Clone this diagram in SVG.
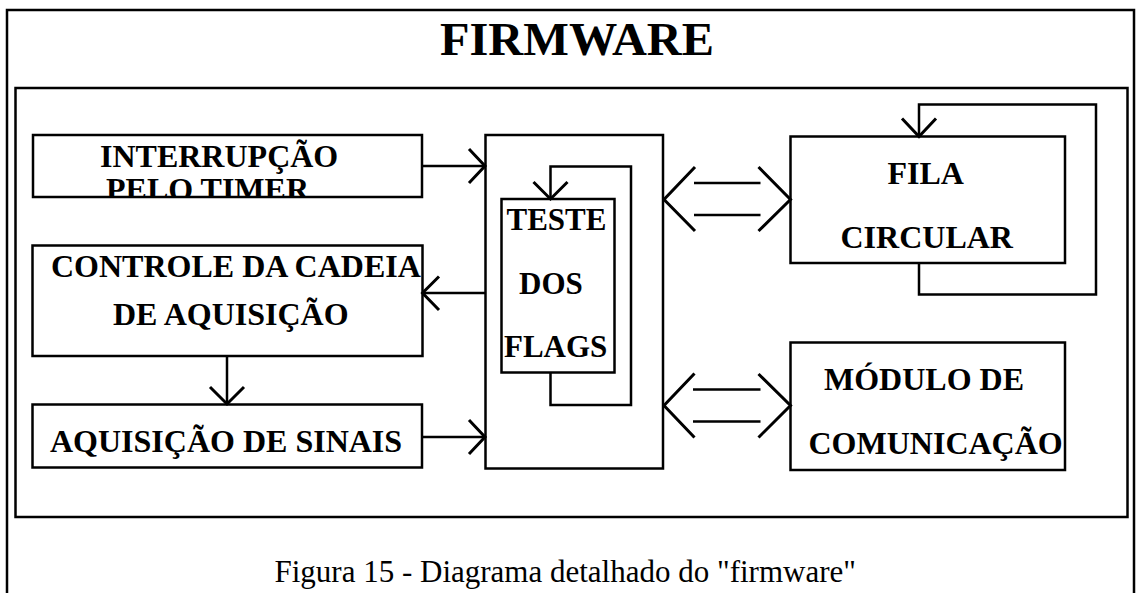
<svg xmlns="http://www.w3.org/2000/svg" width="1137" height="593" viewBox="0 0 1137 593">
<style>
.box{fill:none;stroke:#000;stroke-width:2.5}
.ln{fill:none;stroke:#000;stroke-width:2.5}
.hd{fill:none;stroke:#000;stroke-width:3}
.t{font-family:"Liberation Serif","Times New Roman",serif;font-weight:bold;font-size:32px;fill:#000}
.s{font-size:31px}
.ttl{font-size:46px}
.cap{font-family:"Liberation Serif","Times New Roman",serif;font-size:31px;fill:#000}
</style>
<defs>
<clipPath id="clipInt"><rect x="33" y="135" width="389" height="62"/></clipPath>
</defs>
<rect width="1137" height="593" fill="#fff"/>
<g id="frame">
<path class="ln" d="M7,593 V10 H1134 V593" stroke-width="2"/>
<rect class="box" x="15.5" y="88" width="1112" height="429"/>
<text class="t ttl" x="440" y="55" textLength="274" lengthAdjust="spacingAndGlyphs">FIRMWARE</text>
</g>
<g id="interrupcao">
<rect class="box" x="33" y="135" width="389" height="62"/>
<text class="t" x="100" y="167">INTERRUPÇÃO</text>
<text class="t" x="106" y="200" clip-path="url(#clipInt)">PELO TIMER</text>
</g>
<g id="controle">
<rect class="box" x="32.5" y="245.5" width="390" height="110.5"/>
<text class="t" x="51" y="277">CONTROLE DA CADEIA</text>
<text class="t" x="113" y="324.5">DE AQUISIÇÃO</text>
</g>
<g id="sinais">
<rect class="box" x="32.5" y="404.5" width="389.5" height="63"/>
<text class="t" x="50" y="452">AQUISIÇÃO DE SINAIS</text>
</g>
<g id="central">
<rect class="box" x="485.5" y="135" width="177.5" height="333.5"/>
</g>
<g id="teste">
<rect class="box" x="501.5" y="199" width="113" height="173.5"/>
<text class="t s" x="506.5" y="230">TESTE</text>
<text class="t s" x="519" y="294">DOS</text>
<text class="t s" x="504" y="357">FLAGS</text>
</g>
<g id="fila">
<rect class="box" x="790.5" y="136.5" width="274.5" height="126.5"/>
<text class="t" x="887.5" y="184">FILA</text>
<text class="t" x="840.5" y="248">CIRCULAR</text>
</g>
<g id="modulo">
<rect class="box" x="790.5" y="342.5" width="274.5" height="127.5"/>
<text class="t" x="824" y="390">MÓDULO DE</text>
<text class="t" x="808.5" y="454">COMUNICAÇÃO</text>
</g>
<g id="connectors">
<path class="ln" d="M422,166 H485"/>
<path class="hd" d="M469,149 L485,166 L469,183"/>
<path class="ln" d="M485.5,293 H423"/>
<path class="hd" d="M439,276.5 L422.5,293 L439,310"/>
<path class="ln" d="M227,356 V404"/>
<path class="hd" d="M210,387 L227,404 L244,387"/>
<path class="ln" d="M422,437 H485"/>
<path class="hd" d="M469,420 L485,437 L469,454"/>
<path class="ln" d="M550.5,372.5 V405 H631 V166.5 H550.5 V199"/>
<path class="hd" d="M533.5,182 L550.5,199 L567.5,182"/>
<path class="hd" d="M695,167 L664,199.5 L695,231"/>
<path class="hd" d="M758.5,167 L790.5,199.5 L758.5,231"/>
<path class="ln" d="M694,183 H760.5 M694,215 H760.5"/>
<path class="hd" d="M694.5,373.5 L664,405.5 L694.5,437.5"/>
<path class="hd" d="M758.5,374 L790.5,405.5 L758.5,437.5"/>
<path class="ln" d="M693,389.5 H760.5 M693,421.5 H760.5"/>
<path class="ln" d="M919,263 V294.5 H1096 V104.5 H919 V136.5"/>
<path class="hd" d="M902,118.5 L919,136.5 L936,118.5"/>
</g>
<text class="cap" x="274.5" y="582">Figura 15 - Diagrama detalhado do "firmware"</text>
</svg>
